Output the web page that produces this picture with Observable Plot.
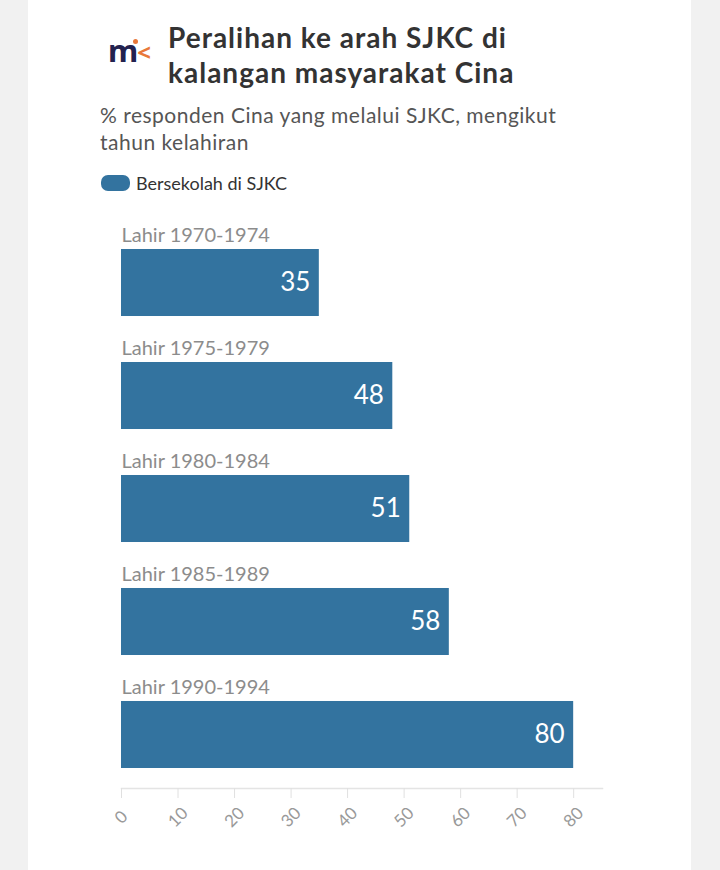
<!DOCTYPE html>
<html><head><meta charset="utf-8">
<script src="https://cdn.jsdelivr.net/npm/d3@7"></script>
<script src="https://cdn.jsdelivr.net/npm/@observablehq/plot@0.6"></script>
<style>
html,body{margin:0;padding:0;background:#f1f1f1;}
#card{position:absolute;left:28px;top:0;width:663px;height:870px;background:#fff;font-family:Lato,"Noto Sans",sans-serif;}
#logo{position:absolute;left:80px;top:30px;font-family:"Noto Sans",sans-serif;font-weight:700;line-height:40px;}
#logo .m{color:#23224f;font-size:31px;letter-spacing:-1px;}
#logo .k{color:#e8783a;font-size:24px;position:relative;top:-1px;}
#logo .dot{position:absolute;left:25px;top:9px;width:5px;height:5px;border-radius:50%;background:#e8783a;}
#title{position:absolute;left:140px;top:20px;font-weight:700;font-size:28px;line-height:35px;letter-spacing:1px;color:#333;}
#sub{position:absolute;left:72px;top:101px;font-size:21px;line-height:27px;letter-spacing:0.5px;color:#555;}
#legend{position:absolute;left:73px;top:172px;font-size:18px;color:#333;display:flex;align-items:center;}
#legend .sw{display:inline-block;width:29px;height:16px;border-radius:7px;background:#33739f;margin-right:6px;}
#chart{position:absolute;left:0;top:215px;}
</style></head>
<body>
<div id="card">
  <div id="logo"><span class="m">m</span><span class="k">&lt;</span><span class="dot"></span></div>
  <div id="title">Peralihan ke arah SJKC di<br>kalangan masyarakat Cina</div>
  <div id="sub">% responden Cina yang melalui SJKC, mengikut<br>tahun kelahiran</div>
  <div id="legend"><span class="sw"></span><span id="legtext"></span></div>
  <div id="chart"></div>
</div>
<script>
const categories = ["Lahir 1970-1974", "Lahir 1975-1979", "Lahir 1980-1984", "Lahir 1985-1989", "Lahir 1990-1994"];
const values = [35, 48, 51, 58, 80];
const xTicks = [0, 10, 20, 30, 40, 50, 60, 70, 80];
const seriesName = "Bersekolah di SJKC";

document.getElementById("legtext").textContent = seriesName;
const data = categories.map((c, i) => ({cat: c, value: values[i]}));

const chart = Plot.plot({
  width: 663,
  height: 640,
  marginLeft: 93,
  marginRight: 89,
  marginTop: 34,
  marginBottom: 67,
  style: {fontFamily: "Lato, 'Noto Sans', sans-serif", background: "#fff"},
  x: {domain: [0, 85.1]},
  y: {domain: categories, range: [34, 553], paddingInner: 0.407, paddingOuter: 0, round: false, axis: null},
  marks: [
    Plot.frame({anchor: "bottom", stroke: "#e4e4e4", strokeWidth: 1.5}),
    Plot.barX(data, {x: "value", y: "cat", fill: "#33739f"}),
    Plot.text(data, {y: "cat", text: "cat", frameAnchor: "left", textAnchor: "start", dy: -47, fontSize: 20, fill: "#8c8c8c"}),
    Plot.text(data, {x: "value", y: "cat", text: d => String(d.value), textAnchor: "end", dx: -9, fontSize: 26, fill: "#fff"}),
    Plot.axisX({ticks: xTicks, tickSize: 10, stroke: "#e0e0e0", tickRotate: -45, textAnchor: "middle", tickPadding: 19, fontSize: 17, fill: "#999", tickFormat: d => String(d), dx: 0, label: null})
  ]
});
document.getElementById("chart").appendChild(chart);
</script>
</body></html>
